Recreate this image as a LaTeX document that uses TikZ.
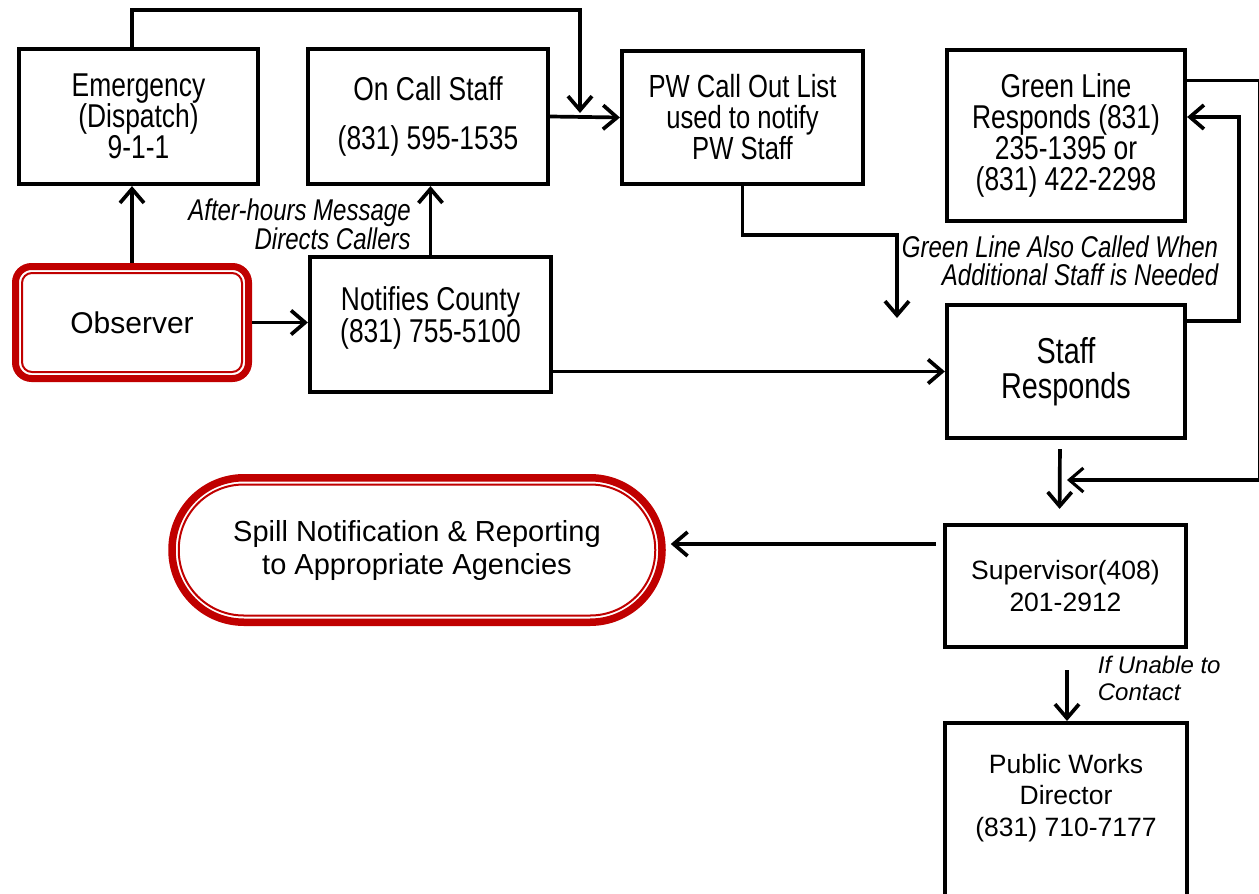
\documentclass[tikz,border=0pt]{standalone}
\usepackage{fontspec}
\setmainfont{Liberation Sans}
\newfontfamily\narrowfont[FakeStretch=0.8]{Liberation Sans}
\usetikzlibrary{arrows.meta}
\definecolor{spillred}{RGB}{192,0,0}

\begin{document}
\begin{tikzpicture}[x=1pt,y=-1pt,->,>={Straight Barb[length=14pt,width=24pt]},line width=3.7pt,
  step box/.style={draw,line width=4.2pt,align=center,inner sep=0pt,font=\narrowfont\fontsize{33}{31}\selectfont},
  plain box/.style={step box,font=\fontsize{26.5}{31.5}\selectfont},
  start node/.style={draw=spillred,line width=7pt,rounded corners=16pt,align=center,font=\fontsize{30}{34}\selectfont},
  end node/.style={draw=spillred,line width=7.5pt,rounded corners=72pt,align=center,font=\fontsize{29}{33}\selectfont},
  inner ring/.style={-,draw=spillred,line width=2pt},
  note text/.style={inner sep=0pt,align=right,font=\narrowfont\itshape\fontsize{30}{27.5}\selectfont},
  plain note/.style={inner sep=0pt,align=left,font=\itshape\fontsize{24}{27}\selectfont}]

  \useasboundingbox (0,0) rectangle (1259,894);

  \node[step box,minimum width=239pt,minimum height=135pt] (emerg) at (138.5,116.5) {Emergency\\(Dispatch)\\9-1-1};
  \node[step box,minimum width=240pt,minimum height=135pt] (oncall) at (428,116.5) {On Call Staff\\[18pt](831) 595-1535};
  \node[step box,minimum width=241pt,minimum height=133pt,font=\narrowfont\fontsize{32}{31}\selectfont] (pwlist) at (742.5,117.5) {PW Call Out List\\used to notify\\PW Staff};
  \node[step box,minimum width=238pt,minimum height=171pt,font=\narrowfont\fontsize{33}{30.7}\selectfont] (green) at (1066,135.5) {Green Line\\Responds (831)\\235-1395 or\\(831) 422-2298};
  \node[start node,minimum width=233pt,minimum height=112pt] (obs) at (132,322.5) {Observer};
  \node[step box,minimum width=241pt,minimum height=135pt,font=\narrowfont\fontsize{33}{32}\selectfont,text depth=20pt] (notify) at (430.5,324.5) {Notifies County\\(831) 755-5100};
  \node[step box,minimum width=238pt,minimum height=133pt,font=\narrowfont\fontsize{36}{35}\selectfont] (staff) at (1066,371.5) {Staff\\Responds};
  \node[end node,minimum width=490pt,minimum height=144.5pt] (spill) at (417,550) {Spill Notification \& Reporting\\to Appropriate Agencies};
  \node[plain box,minimum width=241pt,minimum height=122pt] (sup) at (1065.5,586) {Supervisor(408)\\201-2912};
  \node[plain box,anchor=north,minimum width=242pt,inner ysep=31pt,text depth=120pt] (pwd) at (1066,721) {Public Works\\Director\\(831) 710-7177};

  % double red outlines
  \draw[inner ring,rounded corners=10pt] ([shift={(10pt,10pt)}]obs.south west) rectangle ([shift={(-10pt,-10pt)}]obs.north east);
  \draw[inner ring,rounded corners=65pt] ([shift={(10.5pt,10.5pt)}]spill.south west) rectangle ([shift={(-10.5pt,-10.5pt)}]spill.north east);

  \coordinate (rail) at (580,10);
  \coordinate (pwin) at (580,113);
  \coordinate (glin) at (897,318);
  \coordinate (merge) at (1067,480);

  \draw (obs.north) -- (obs.north |- emerg.south);
  \draw (obs.east) -- (obs.east -| notify.west);
  \draw (notify.north) -- (notify.north |- oncall.south)
    node[note text,pos=.45,left=18pt] {After-hours Message\\Directs Callers};
  \draw (obs.north |- emerg.north) |- (rail) -- (pwin);
  \draw (oncall.east) -- (pwlist.west);
  \draw (pwlist.south) -- ++(0,49) -| (glin);
  \node[note text,anchor=east] (glnote) at (1220,261) {Green Line Also Called When\\Additional Staff is Needed};
  \draw (notify.east |- staff.west) -- (staff.west);
  \draw ([yshift=-18pt]staff.north east) -- ++(52,0) |- ([yshift=18.5pt]green.east);
  \draw[line width=3.1pt] ([yshift=-33pt]green.north east) -- ++(72,0) |- (merge);
  \draw[shorten <=9pt,shorten >=14pt] ([xshift=-6pt]staff.south) -- ([xshift=-6pt]sup.north);
  \draw[shorten <=7pt,shorten >=5pt] ([yshift=42pt]sup.west) -- ([yshift=42pt]sup.west -| spill.east);
  \draw[shorten <=21pt] ([xshift=1.5pt]sup.south) -- ([xshift=1.5pt]sup.south |- pwd.north)
    node[plain note,pos=.41,right=29pt] {If Unable to\\Contact};

\end{tikzpicture}
\end{document}
